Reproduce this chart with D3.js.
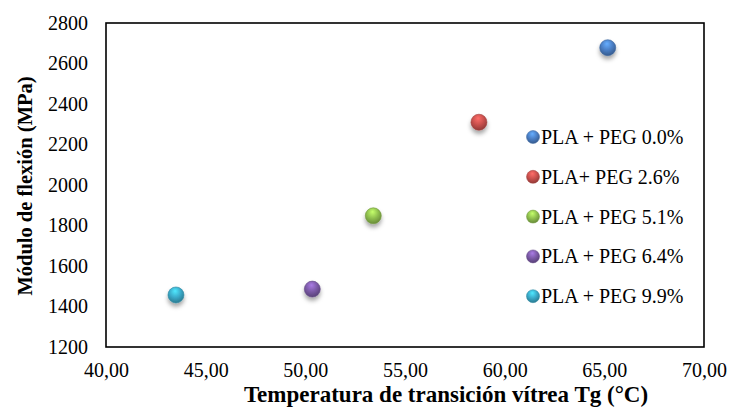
<!DOCTYPE html>
<html>
<head>
<meta charset="utf-8">
<script src="https://cdn.jsdelivr.net/npm/d3@7"></script>
<style>
  html, body { margin: 0; padding: 0; background: #fff; }
  svg { display: block; }
  text { font-family: "Liberation Serif", "Times New Roman", serif; fill: #000; }
</style>
</head>
<body>
<svg id="chart" width="729" height="409"></svg>
<script>
// ---- data ----
const seriesNames = ["PLA + PEG 0.0%", "PLA+ PEG 2.6%", "PLA + PEG 5.1%", "PLA + PEG 6.4%", "PLA + PEG 9.9%"];
const tgValues = [65.17, 58.71, 53.41, 50.35, 43.51];
const modulusValues = [2678, 2310, 1848, 1486, 1457];
const seriesColors = ["#4a7ec4", "#c9504d", "#8fbf4e", "#7b5aa6", "#3aa9c8"];
const xTickValues = [40, 45, 50, 55, 60, 65, 70];
const yTickValues = [1200, 1400, 1600, 1800, 2000, 2200, 2400, 2600, 2800];
const xTitle = "Temperatura de transición vítrea Tg (°C)";
const yTitle = "Módulo de flexión (MPa)";

// ---- layout ----
const svg = d3.select("#chart");
const plot = { left: 106, top: 23, right: 704, bottom: 347 };
const FONT = '"Liberation Serif", "Times New Roman", serif';

const x = d3.scaleLinear().domain([40, 70]).range([plot.left, plot.right]);
const y = d3.scaleLinear().domain([1200, 2800]).range([plot.bottom, plot.top]);

const defs = svg.append("defs");
const shadow = defs.append("filter").attr("id", "shadow")
  .attr("x", "-50%").attr("y", "-50%").attr("width", "200%").attr("height", "220%");
shadow.append("feDropShadow").attr("dx", 0).attr("dy", 3.5)
  .attr("stdDeviation", 2.2).attr("flood-color", "#000").attr("flood-opacity", 0.35);

seriesColors.forEach((c, i) => {
  const g = defs.append("radialGradient").attr("id", "grad" + i)
    .attr("cx", "45%").attr("cy", "35%").attr("r", "65%").attr("fx", "45%").attr("fy", "25%");
  const base = d3.color(c);
  g.append("stop").attr("offset", "0%").attr("stop-color", base.brighter(0.9));
  g.append("stop").attr("offset", "55%").attr("stop-color", base);
  g.append("stop").attr("offset", "100%").attr("stop-color", base.darker(0.9));
});

// plot border
svg.append("rect")
  .attr("x", plot.left).attr("y", plot.top)
  .attr("width", plot.right - plot.left).attr("height", plot.bottom - plot.top)
  .attr("fill", "none").attr("stroke", "#000").attr("stroke-width", 1.6);

// axes
const fmtX = v => d3.format(".2f")(v).replace(".", ",");
const xAxis = svg.append("g").attr("transform", `translate(0,${plot.bottom})`)
  .call(d3.axisBottom(x).tickValues(xTickValues).tickFormat(fmtX).tickSize(0).tickPadding(16));
xAxis.select(".domain").remove();
xAxis.attr("font-family", FONT);
xAxis.selectAll("text").style("font-size", "20px").style("font-family", FONT).attr("fill", "#000");

const yAxis = svg.append("g").attr("transform", `translate(${plot.left},0)`)
  .call(d3.axisLeft(y).tickValues(yTickValues).tickFormat(d3.format("d")).tickSize(0).tickPadding(18));
yAxis.select(".domain").remove();
yAxis.attr("font-family", FONT);
yAxis.selectAll("text").style("font-size", "20px").style("font-family", FONT).attr("fill", "#000");

// titles
svg.append("text").attr("x", 446).attr("y", 402).attr("text-anchor", "middle")
  .style("font-size", "23px").style("font-weight", "bold").text(xTitle);
svg.append("text").attr("transform", "translate(32,186) rotate(-90)").attr("text-anchor", "middle")
  .style("font-size", "20.5px").style("font-weight", "bold").text(yTitle);

// points
const data = seriesNames.map((n, i) => ({ name: n, tg: tgValues[i], mod: modulusValues[i], i }));
svg.append("g").selectAll("circle").data(data).join("circle")
  .attr("cx", d => x(d.tg)).attr("cy", d => y(d.mod)).attr("r", 8)
  .attr("fill", d => `url(#grad${d.i})`)
  .attr("stroke", d => d3.color(seriesColors[d.i]).darker(0.6)).attr("stroke-width", 0.6)
  .attr("filter", "url(#shadow)");

// legend
const legend = svg.append("g").selectAll("g").data(data).join("g")
  .attr("transform", (d, i) => `translate(533,${137 + i * 39.8})`);
legend.append("circle").attr("r", 6.5)
  .attr("fill", d => `url(#grad${d.i})`)
  .attr("stroke", d => d3.color(seriesColors[d.i]).darker(0.6)).attr("stroke-width", 0.5);
legend.append("text").attr("x", 8).attr("y", 7)
  .style("font-size", "20px").text(d => d.name);
</script>
</body>
</html>
